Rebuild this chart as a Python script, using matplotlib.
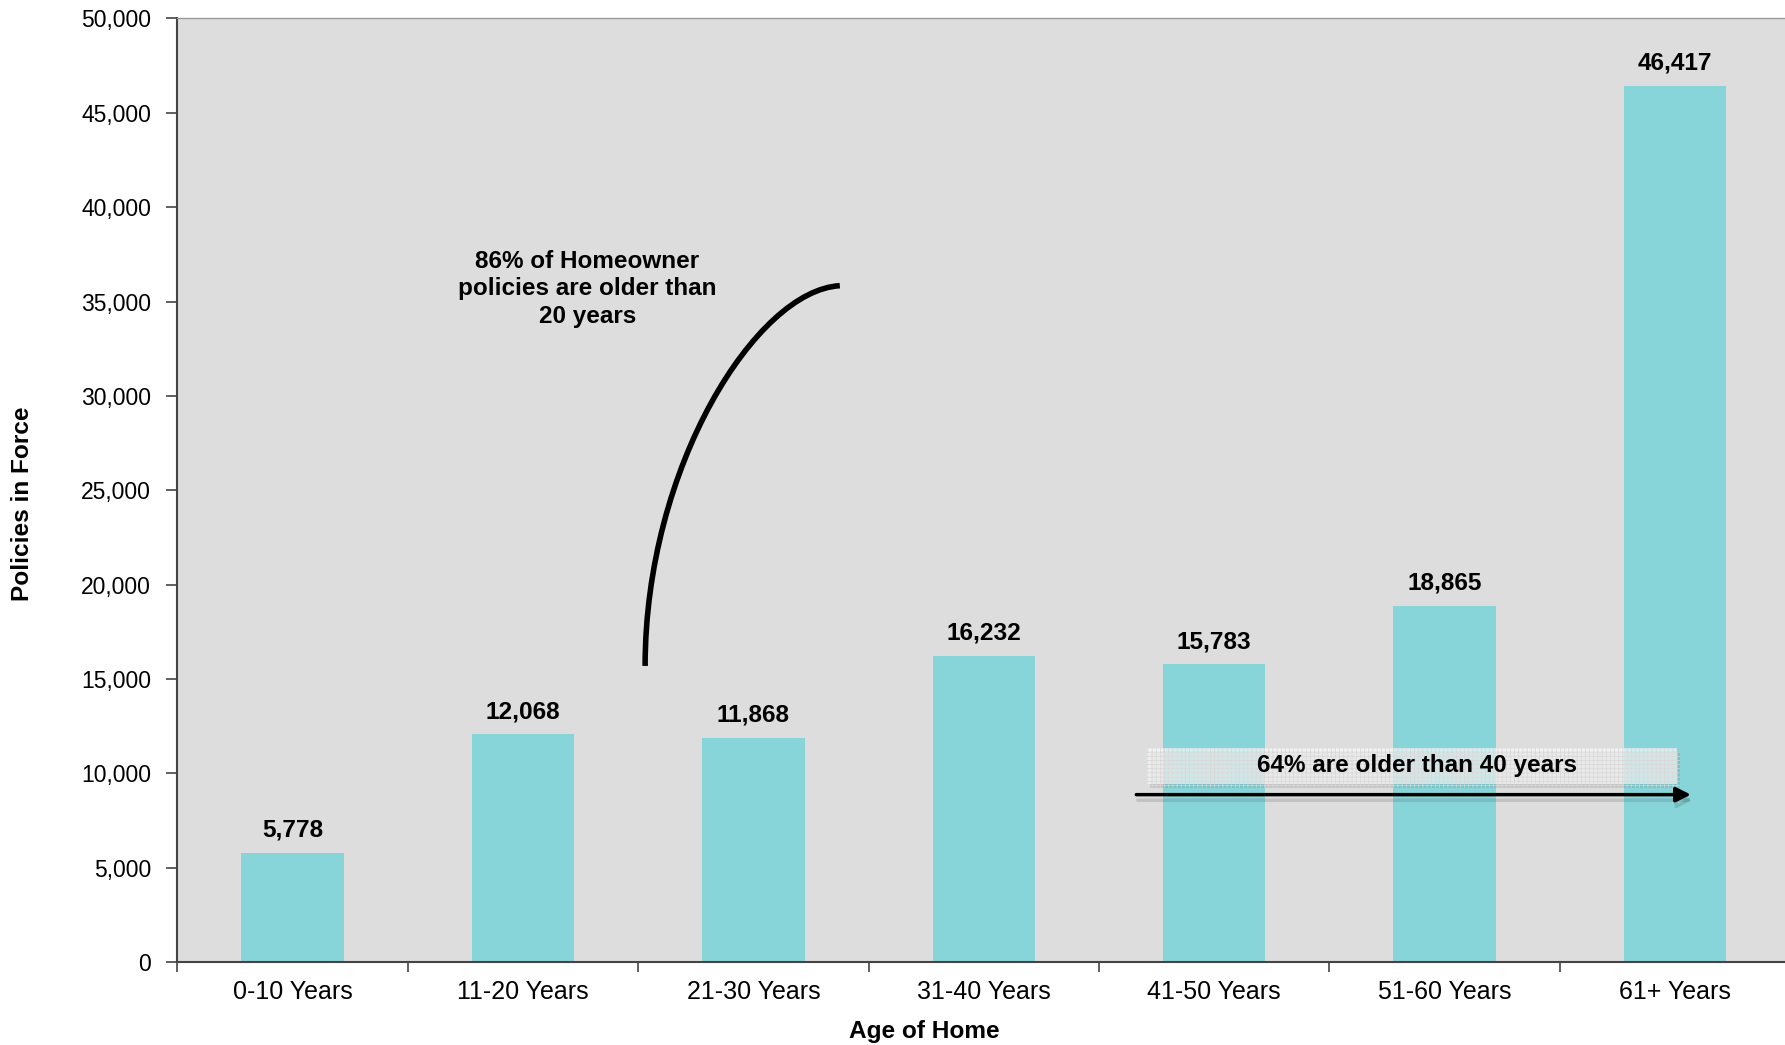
# Policies in force by age of home
import matplotlib.pyplot as plt
import matplotlib.patheffects as pe
from matplotlib.path import Path
from matplotlib.patches import PathPatch, Rectangle
from matplotlib.ticker import FuncFormatter

plt.rcParams['font.family'] = ['Liberation Sans', 'DejaVu Sans']
plt.rcParams['hatch.linewidth'] = 0.5

categories = ['0-10 Years', '11-20 Years', '21-30 Years', '31-40 Years',
              '41-50 Years', '51-60 Years', '61+ Years']
policies = [5778, 12068, 11868, 16232, 15783, 18865, 46417]

fig = plt.figure(figsize=(17.85, 10.45), dpi=100)
ax = fig.add_axes([0.0994, 0.0794, 0.9035, 0.9029])
ax.set_facecolor('#DDDDDD')

x = range(len(categories))
ax.bar(x, policies, width=0.445, color='#87D5D8', zorder=2)

for i, v in zip(x, policies):
    ax.annotate(f'{v:,}', (i, v), xytext=(0, 8), textcoords='offset points',
                ha='center', va='bottom', fontsize=17.6, fontweight='bold')

ax.set_xlim(-0.5, len(categories) - 0.5)
ax.set_ylim(0, 50000)
ax.set_yticks(range(0, 50001, 5000))
ax.yaxis.set_major_formatter(FuncFormatter(lambda v, p: f'{int(v):,}'))
ax.set_xticks(list(x))
ax.set_xticklabels(categories)
ax.set_xticks([i + 0.5 for i in range(-1, len(categories))], minor=True)
ax.tick_params(axis='x', which='major', length=0, pad=13, labelsize=18)
ax.tick_params(axis='x', which='minor', length=7, width=1.2, color='#444444')
ax.tick_params(axis='y', length=8, width=1.2, color='#444444', pad=11, labelsize=16.5)

for s in ['left', 'bottom']:
    ax.spines[s].set_color('#444444')
    ax.spines[s].set_linewidth(1.5)
for s in ['top', 'right']:
    ax.spines[s].set_color('#999999')
    ax.spines[s].set_linewidth(1.0)

fig.text(0.5177, 0.0125, 'Age of Home', ha='center', va='center',
         fontsize=17.6, fontweight='bold')
fig.text(0.0125, 0.518, 'Policies in Force', ha='center', va='center',
         rotation=90, fontsize=17.6, fontweight='bold')

# curved bracket note
ax.text(1.28, 35680, '86% of Homeowner\npolicies are older than\n20 years',
        ha='center', va='center', fontsize=17.5, fontweight='bold', linespacing=1.25)
curve = Path([(1.530, 15690), (1.530, 26250), (2.014, 35600), (2.375, 35840)],
             [Path.MOVETO, Path.CURVE4, Path.CURVE4, Path.CURVE4])
ax.add_patch(PathPatch(curve, fill=False, lw=4, color='black', zorder=3))

# 40+ years note
box = Rectangle((3.71, 9430), 2.30, 1910, facecolor=(1, 1, 1, 0.62),
                edgecolor='#d6d6d6', lw=0, hatch='++++', zorder=3,
                path_effects=[pe.SimplePatchShadow(offset=(2, -3), alpha=0.15), pe.Normal()])
ax.add_patch(box)
ax.text(4.88, 10400, '64% are older than 40 years', ha='center', va='center',
        fontsize=17.5, fontweight='bold', zorder=4)
ax.annotate('', xy=(6.081, 8870), xytext=(3.65, 8870),
            arrowprops=dict(arrowstyle='-|>', color='black', lw=2.5, mutation_scale=22,
                            path_effects=[pe.SimpleLineShadow(offset=(1, -4), alpha=0.12), pe.Normal()]),
            zorder=4)

fig.savefig('out.png', dpi=100)
